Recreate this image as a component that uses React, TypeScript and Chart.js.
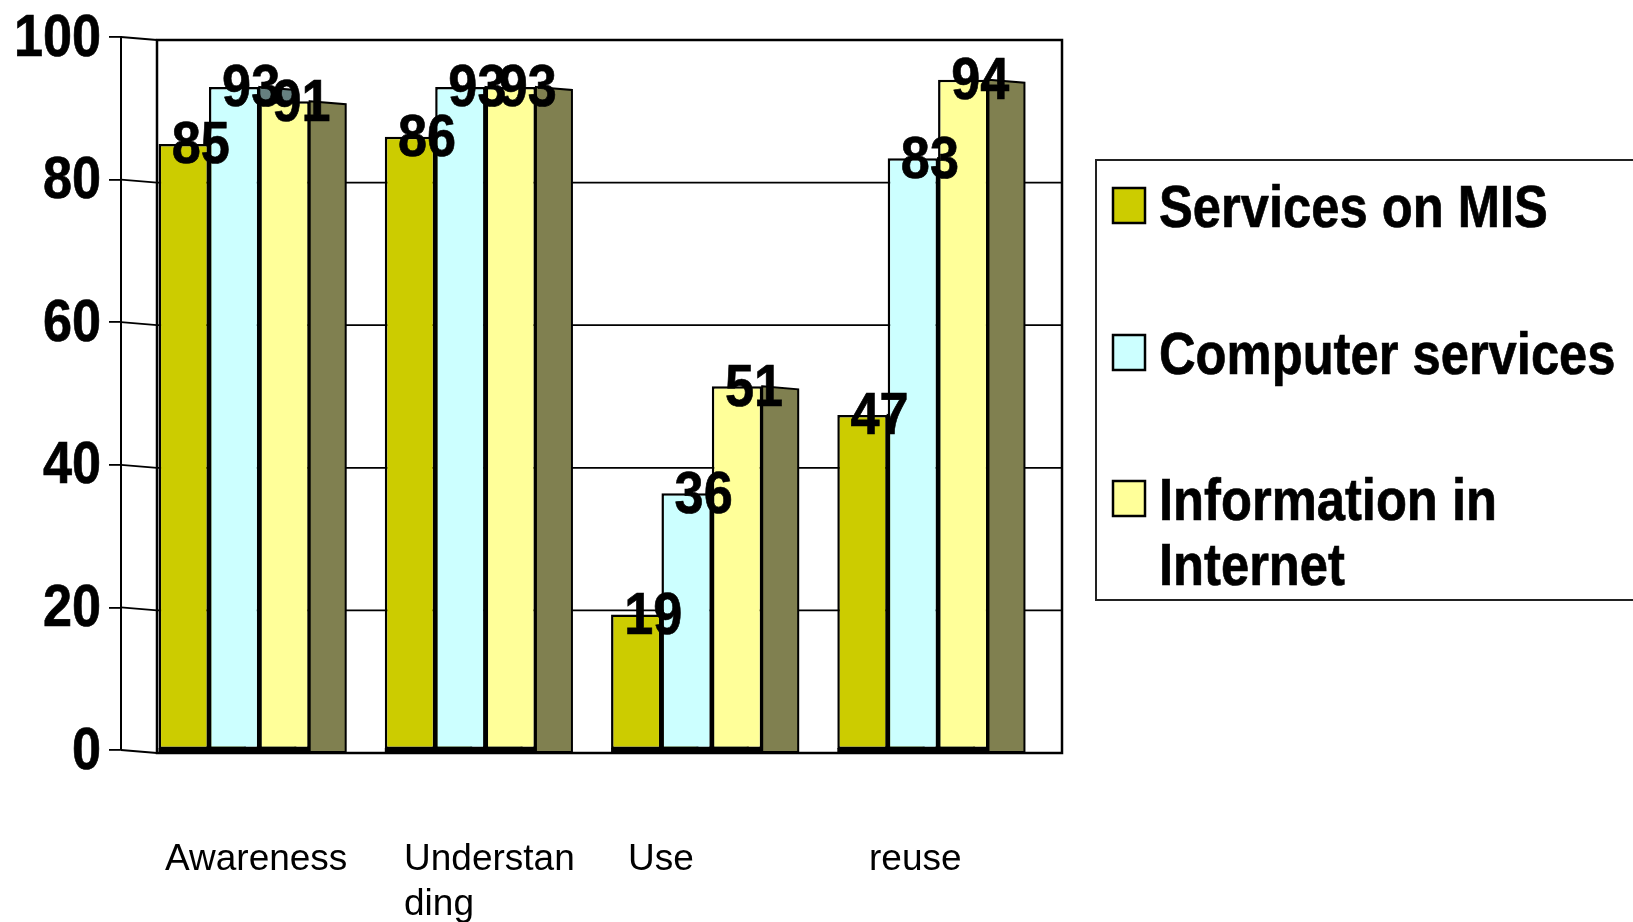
import React, { useEffect, useRef } from "react";
import { Chart, registerables } from "chart.js";

Chart.register(...registerables);

const categories = ["Awareness", "Understan\nding", "Use", "reuse"];
const seriesNames = ["Services on MIS", "Computer services", "Information in\nInternet"];
const servicesOnMis = [85, 86, 19, 47];
const computerServices = [93, 93, 36, 83];
const informationInInternet = [91, 93, 51, 94];
const faceColors = ["#CCCC00", "#CCFFFF", "#FFFF99"];
const sideColors = ["#666600", "#668080", "#808050"];
const yTicks = [0, 20, 40, 60, 80, 100];

const SANS = '"Liberation Sans", Arial, sans-serif';
const DEPTH_X = 36;
const DEPTH_Y = 3;

// Bold text squeezed horizontally, as in the reference.
function squeezed(ctx: any, text: string, x: number, y: number, sx: number) {
  ctx.save();
  ctx.translate(x, y);
  ctx.scale(sx, 1);
  ctx.fillText(text, 0, 0);
  ctx.strokeStyle = "#000";
  ctx.lineWidth = 0.7;
  ctx.strokeText(text, 0, 0);
  ctx.restore();
}

const wallPlugin = {
  id: "wall",
  beforeDatasetsDraw(chart: any) {
    const { ctx, chartArea: a, scales } = chart;
    const y = scales.y;
    ctx.save();
    ctx.strokeStyle = "#000";
    ctx.lineWidth = 2.5;
    ctx.strokeRect(a.left + DEPTH_X, a.top + DEPTH_Y, a.right - a.left, a.bottom - a.top);
    ctx.lineWidth = 1.8;
    yTicks.forEach((v) => {
      const py = y.getPixelForValue(v);
      ctx.beginPath();
      ctx.moveTo(a.left, py);
      ctx.lineTo(a.left + DEPTH_X, py + DEPTH_Y);
      ctx.lineTo(a.right + DEPTH_X, py + DEPTH_Y);
      ctx.stroke();
    });
    chart.data.datasets.forEach((_: any, di: number) => {
      chart.getDatasetMeta(di).data.forEach((bar: any) => {
        const r = bar.x + bar.width / 2;
        const l = bar.x - bar.width / 2;
        // floor band below the front face
        ctx.fillStyle = "#000";
        ctx.fillRect(l, bar.base - 1, bar.width, DEPTH_Y + 1);
        ctx.beginPath();
        ctx.moveTo(r, bar.y);
        ctx.lineTo(r + DEPTH_X, bar.y + DEPTH_Y);
        ctx.lineTo(r + DEPTH_X, bar.base + DEPTH_Y);
        ctx.lineTo(r, bar.base + DEPTH_Y);
        ctx.closePath();
        ctx.fillStyle = sideColors[di];
        ctx.fill();
        ctx.lineWidth = 2;
        ctx.stroke();
      });
    });
    ctx.restore();
  },
  afterDatasetsDraw(chart: any) {
    const { ctx, chartArea: a, scales } = chart;
    ctx.save();
    ctx.fillStyle = "#000";
    // y tick labels
    ctx.font = `bold 60px ${SANS}`;
    ctx.textAlign = "right";
    ctx.textBaseline = "middle";
    yTicks.forEach((v) => {
      squeezed(ctx, String(v), a.left - 20, scales.y.getPixelForValue(v) + 2, 0.87);
    });
    // value labels
    ctx.textAlign = "center";
    chart.data.datasets.forEach((ds: any, di: number) => {
      chart.getDatasetMeta(di).data.forEach((bar: any, i: number) => {
        squeezed(ctx, String(ds.data[i]), bar.x + 17, bar.y + 3, 0.87);
      });
    });
    // category labels
    const labelLeft = [165, 404, 628, 869];
    ctx.font = `37px ${SANS}`;
    ctx.textAlign = "left";
    ctx.textBaseline = "alphabetic";
    chart.data.labels.forEach((l: string, i: number) => {
      l.split("\n").forEach((line, k) => {
        ctx.fillText(line, labelLeft[i], a.bottom + 120 + k * 45);
      });
    });
    // legend
    ctx.strokeStyle = "#222";
    ctx.lineWidth = 2;
    ctx.strokeRect(1096, 160, 600, 440);
    const swatchY = [188, 335, 481];
    const textY = [227, 374, 520];
    ctx.font = `bold 60px ${SANS}`;
    chart.data.datasets.forEach((ds: any, di: number) => {
      ctx.fillStyle = ds.backgroundColor;
      ctx.fillRect(1113, swatchY[di], 32, 35);
      ctx.strokeStyle = "#000";
      ctx.lineWidth = 2.5;
      ctx.strokeRect(1113, swatchY[di], 32, 35);
      ctx.fillStyle = "#000";
      String(ds.label).split("\n").forEach((line: string, k: number) => {
        squeezed(ctx, line, 1159, textY[di] + k * 64.5, 0.845);
      });
    });
    ctx.restore();
  },
};

export default function App() {
  const ref = useRef<HTMLCanvasElement | null>(null);
  useEffect(() => {
    document.body.style.margin = "0";
    const seriesValues = [servicesOnMis, computerServices, informationInInternet];
    const chart = new Chart(ref.current as HTMLCanvasElement, {
      type: "bar",
      data: {
        labels: categories,
        datasets: seriesNames.map((label, i) => ({
          label,
          data: seriesValues[i],
          backgroundColor: faceColors[i],
          borderColor: "#000",
          borderWidth: 2.5,
          borderSkipped: false,
          barPercentage: 1,
          categoryPercentage: 0.668,
        })),
      },
      options: {
        animation: false,
        responsive: false,
        layout: { padding: { top: 37, right: 607, left: 0, bottom: 0 } },
        plugins: { legend: { display: false }, tooltip: { enabled: false }, title: { display: false } },
        scales: {
          x: {
            grid: { display: false },
            border: { display: false },
            ticks: { display: false },
            afterFit: (s: any) => { s.height = 172; },
          },
          y: {
            min: 0,
            max: 100,
            afterBuildTicks: (s: any) => { s.ticks = yTicks.map((value) => ({ value })); },
            afterFit: (s: any) => { s.width = 121; },
            border: { display: true, color: "#000", width: 2 },
            grid: { drawOnChartArea: false, drawTicks: true, tickLength: 12, color: "#000", lineWidth: 1.8 },
            ticks: { display: false },
          },
        },
      },
      plugins: [wallPlugin],
    } as any);
    return () => chart.destroy();
  }, []);
  return (
    <div style={{ position: "absolute", left: 0, top: 0, width: 1633, height: 922, background: "#fff" }}>
      <canvas ref={ref} width={1633} height={922} style={{ display: "block", width: 1633, height: 922 }} />
    </div>
  );
}
